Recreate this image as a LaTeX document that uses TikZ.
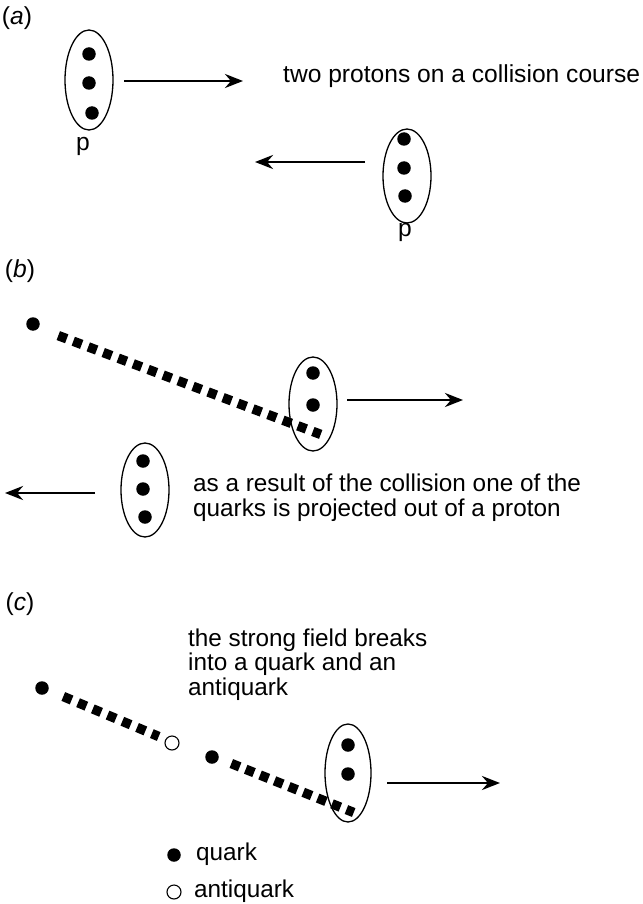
\documentclass[tikz,border=0pt]{standalone}
\usepackage{fontspec}
\setmainfont{Liberation Sans}
\usetikzlibrary{arrows.meta,shapes.geometric}
\begin{document}
\begin{tikzpicture}[x=1pt,y=-1pt,
 proton/.style={draw,ellipse,line width=1.3pt,minimum width=48pt,minimum height=96pt,inner sep=0pt},
 quark/.style={circle,fill=black,minimum size=13.5pt,inner sep=0pt},
 anti/.style={circle,draw,line width=1.1pt,fill=white,minimum size=14pt,inner sep=0pt},
 motion/.style={line width=2.9pt,-{Stealth[length=18pt,width=14pt,inset=6pt]}},
 field/.style={line width=9.5pt,dash pattern=on 9pt off 7pt},
 lbl/.style={font=\fontsize{24.6}{26}\selectfont,inner sep=0pt},
 txt/.style={font=\fontsize{24.3}{24.5}\selectfont,inner sep=0pt,align=left,anchor=base west},
]
\useasboundingbox (0,0) rectangle (642,904);

% ---------- (a)
\node[lbl] (la) at (17,18) {(\textit{a})};
\node[proton,minimum height=100pt] (pa1) at (89,80) {};
\node[quark] (qa11) at (89,54) {};
\node[quark] (qa12) at (89,83) {};
\node[quark] (qa13) at (92,113) {};
\node[lbl] (pl1) at (83,146) {p};
\coordinate (aa1s) at (124,81);
\coordinate (aa1e) at (243,81);
\draw[motion] (aa1s) -- (aa1e);
\node[txt,font=\fontsize{24.6}{24.5}\selectfont] (ta) at (283,83) {two protons on a collision course};

\node[proton,minimum height=94pt] (pa2) at (407,176) {};
\node[quark] (qa21) at (404,139) {};
\node[quark] (qa22) at (404,168) {};
\node[quark] (qa23) at (405,196) {};
\node[lbl] (pl2) at (405,232) {p};
\coordinate (aa2s) at (365,162);
\coordinate (aa2e) at (255,162);
\draw[motion] (aa2s) -- (aa2e);

% ---------- (b)
\node[lbl] (lb) at (20,271) {(\textit{b})};
\node[quark] (qb0) at (33,324) {};
\coordinate (fbs) at (58.3,335.6);
\coordinate (fbe) at (320.7,434.4);
\draw[field] (fbs) -- (fbe);
\node[proton,minimum height=94pt] (pb1) at (313,404) {};
\node[quark] (qb11) at (313,373) {};
\node[quark] (qb12) at (313,405) {};
\coordinate (ab1s) at (347,400);
\coordinate (ab1e) at (463,400);
\draw[motion] (ab1s) -- (ab1e);

\node[proton,minimum height=94pt] (pb2) at (145,490) {};
\node[quark] (qb21) at (143,461) {};
\node[quark] (qb22) at (143,489) {};
\node[quark] (qb23) at (145,517) {};
\coordinate (ab2s) at (95,493);
\coordinate (ab2e) at (5,493);
\draw[motion] (ab2s) -- (ab2e);
\node[txt] (tb) at (193,516) {as a result of the collision one of the\\quarks is projected out of a proton};

% ---------- (c)
\node[lbl] (lc) at (20,604) {(\textit{c})};
\node[txt] (tc) at (188,695) {the strong field breaks\\into a quark and an\\antiquark};
\node[quark] (qc0) at (42,688) {};
\coordinate (fc1s) at (63.3,696.5);
\coordinate (fc1e) at (158.7,736.5);
\draw[field] (fc1s) -- (fc1e);
\node[anti] (ac) at (172,743) {};
\node[quark] (qc1) at (212,757) {};
\coordinate (fc2s) at (231.3,763.5);
\coordinate (fc2e) at (353.7,812.5);
\draw[field,dash pattern=on 9pt off 6.5pt] (fc2s) -- (fc2e);
\node[proton,minimum width=46pt,minimum height=98pt] (pc) at (348,773) {};
\node[quark] (qc21) at (348,745) {};
\node[quark] (qc22) at (348,774) {};
\coordinate (ac1s) at (387,783);
\coordinate (ac1e) at (500,783);
\draw[motion] (ac1s) -- (ac1e);

% legend
\node[quark] (lq) at (174,855) {};
\node[txt] (lqt) at (196,860) {quark};
\node[anti] (laq) at (174,892) {};
\node[txt] (laqt) at (194,897) {antiquark};
\end{tikzpicture}
\end{document}
